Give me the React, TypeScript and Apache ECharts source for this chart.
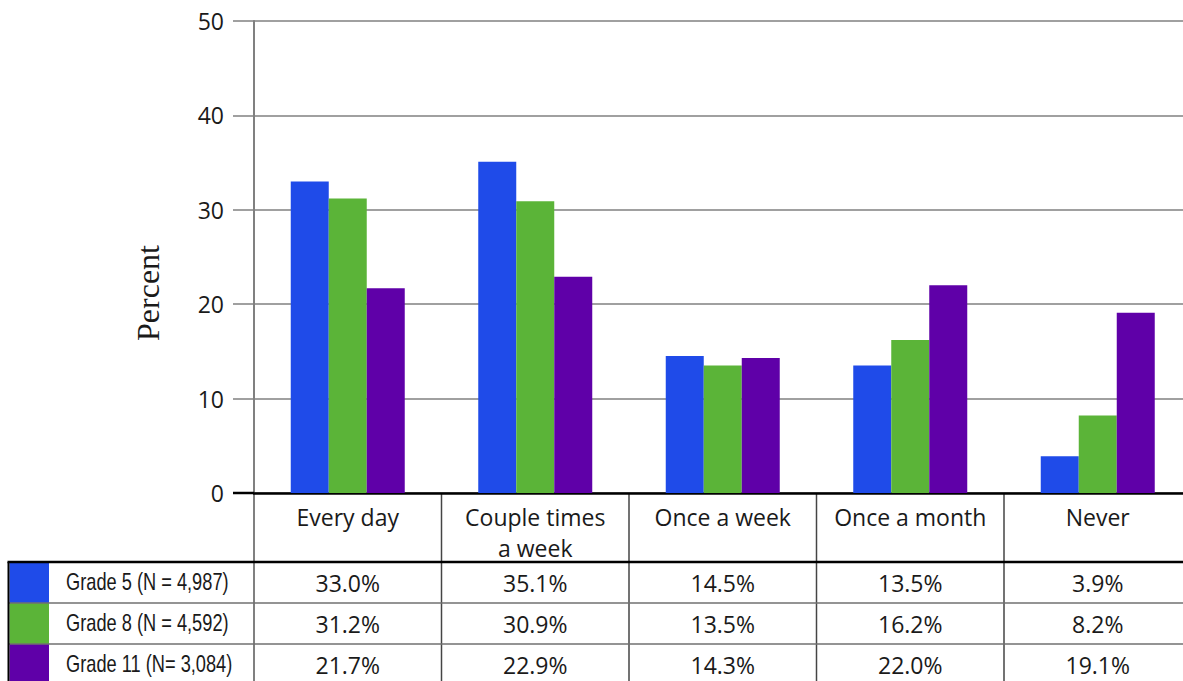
import React, { useEffect, useRef } from "react";
import * as echarts from "echarts";

const categories = ["Every day", "Couple times\na week", "Once a week", "Once a month", "Never"];
const grade5 = [33.0, 35.1, 14.5, 13.5, 3.9];
const grade8 = [31.2, 30.9, 13.5, 16.2, 8.2];
const grade11 = [21.7, 22.9, 14.3, 22.0, 19.1];
const seriesNames = ["Grade 5 (N = 4,987)", "Grade 8 (N = 4,592)", "Grade 11 (N= 3,084)"];
const seriesColors = ["#1f4be9", "#5bb438", "#5f00a8"];
const yMin = 0;
const yMax = 50;
const yInterval = 10;

const FONT = "'Open Sans', 'Noto Sans', sans-serif";
const NARROW = "'Liberation Sans', Arial, sans-serif";

export default function App() {
  const ref = useRef<HTMLDivElement>(null);
  useEffect(() => {
    if (!ref.current) return;
    const chart = echarts.init(ref.current, null, { renderer: "svg" });
    const allSeries = [grade5, grade8, grade11];
    const option: any = {
      animation: false,
      backgroundColor: "#ffffff",
      grid: { left: 254, top: 21, width: 937.5, height: 472, containLabel: false },
      xAxis: {
        type: "category",
        data: categories,
        axisLine: { show: true, lineStyle: { color: "#000000", width: 2.5 } },
        axisTick: { show: false },
        axisLabel: {
          interval: 0,
          margin: 8,
          fontFamily: FONT,
          fontSize: 23,
          lineHeight: 31.5,
          color: "#1a1a1a",
        },
      },
      yAxis: {
        type: "value",
        min: yMin,
        max: yMax,
        interval: yInterval,
        axisLine: { show: true, lineStyle: { color: "#808080", width: 2 } },
        axisTick: { show: true, length: 21, lineStyle: { color: "#808080", width: 1.5 } },
        splitLine: { show: true, lineStyle: { color: "#808080", width: 1.5 } },
        axisLabel: { margin: 30, fontFamily: FONT, fontSize: 23, color: "#1a1a1a" },
      },
      series: allSeries.map((d, i) => ({
        type: "bar",
        name: seriesNames[i],
        data: d,
        barWidth: 38,
        barGap: "0%",
        itemStyle: { color: seriesColors[i] },
        z: 3,
      })),
    };
    chart.setOption(option);

    const cx = categories.map((c) => chart.convertToPixel({ xAxisIndex: 0 }, c) as number);
    const catW = cx[1] - cx[0];
    const y0 = chart.convertToPixel({ yAxisIndex: 0 }, 0) as number;
    const axisX = cx[0] - catW / 2;
    const rowTop = 562;
    const rowH = 41;
    const bottom = 700;
    const graphics: any[] = [];

    graphics.push({
      type: "text",
      x: 148,
      y: 293,
      rotation: Math.PI / 2,
      style: {
        text: "Percent",
        font: "32px 'Liberation Serif', 'DejaVu Serif', serif",
        fill: "#1a1a1a",
        align: "center",
        verticalAlign: "middle",
      },
    });
    graphics.push({
      type: "line",
      shape: { x1: axisX - 21, y1: y0, x2: axisX, y2: y0 },
      style: { stroke: "#000000", lineWidth: 2.5 },
      z: 10,
    });
    graphics.push({
      type: "line",
      shape: { x1: axisX, y1: y0, x2: axisX, y2: bottom },
      style: { stroke: "#808080", lineWidth: 2 },
    });
    for (let i = 1; i < categories.length; i++) {
      const x = cx[i] - catW / 2;
      graphics.push({
        type: "line",
        shape: { x1: x, y1: y0, x2: x, y2: bottom },
        style: { stroke: "#454545", lineWidth: 1.5 },
      });
    }
    seriesNames.forEach((name, r) => {
      const top = rowTop + r * rowH;
      graphics.push({
        type: "rect",
        shape: { x: 9.5, y: top, width: 39.5, height: rowH },
        style: { fill: seriesColors[r] },
      });
      graphics.push({
        type: "text",
        x: 66,
        y: top + rowH / 2,
        scaleX: 0.76,
        style: {
          text: name,
          font: `24px ${NARROW}`,
          fill: "#1a1a1a",
          align: "left",
          verticalAlign: "middle",
        },
      });
      allSeries[r].forEach((v, c) => {
        graphics.push({
          type: "text",
          x: cx[c],
          y: top + rowH / 2,
          style: {
            text: v.toFixed(1) + "%",
            font: `23px ${FONT}`,
            fill: "#1a1a1a",
            align: "center",
            verticalAlign: "middle",
          },
        });
      });
    });
    for (let r = 1; r < seriesNames.length; r++) {
      const y = rowTop + r * rowH;
      graphics.push({
        type: "line",
        shape: { x1: 9, y1: y, x2: 1200, y2: y },
        style: { stroke: "#707070", lineWidth: 1.5 },
        z: 5,
      });
    }
    graphics.push({
      type: "line",
      shape: { x1: 7.5, y1: rowTop, x2: 1200, y2: rowTop },
      style: { stroke: "#000000", lineWidth: 2.5 },
      z: 6,
    });
    graphics.push({
      type: "line",
      shape: { x1: 8.5, y1: rowTop, x2: 8.5, y2: bottom },
      style: { stroke: "#000000", lineWidth: 2 },
      z: 6,
    });

    chart.setOption({ graphic: graphics });
    return () => chart.dispose();
  }, []);

  return (
    <div style={{ position: "absolute", left: 0, top: 0, width: 1183, height: 681, overflow: "hidden", background: "#fff" }}>
      <div ref={ref} style={{ width: 1200, height: 681 }} />
    </div>
  );
}
